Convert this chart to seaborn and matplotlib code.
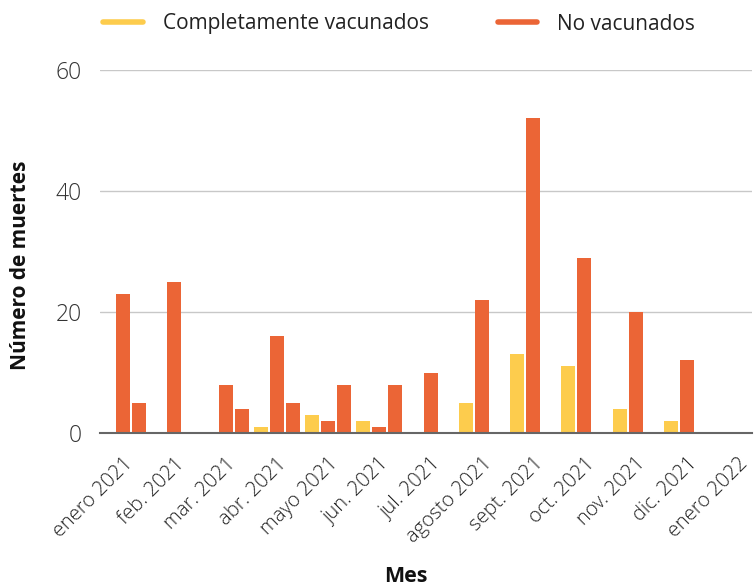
import matplotlib.pyplot as plt
import seaborn as sns
import pandas as pd
from matplotlib.lines import Line2D

sns.set_theme(style="white")
plt.rcParams['font.family'] = ['Open Sans', 'DejaVu Sans']

meses = ["enero 2021", "feb. 2021", "mar. 2021", "abr. 2021", "mayo 2021",
         "jun. 2021", "jul. 2021", "agosto 2021", "sept. 2021", "oct. 2021",
         "nov. 2021", "dic. 2021", "enero 2022"]
completos = [0, 0, 0, 1, 3, 2, 0, 5, 13, 11, 4, 2, 0]
no_vacunados = [23, 25, 8, 16, 2, 1, 10, 22, 52, 29, 20, 12, 0]
no_vacunados_b = [5, 0, 4, 5, 8, 8, 0, 0, 0, 0, 0, 0, 0]

grupos = ["Completamente vacunados", "No vacunados", "No vacunados (b)"]
amarillo = "#FDCC4D"
naranja = "#EB6536"

df = pd.DataFrame({
    "mes": meses * 3,
    "grupo": [grupos[0]] * 13 + [grupos[1]] * 13 + [grupos[2]] * 13,
    "muertes": completos + no_vacunados + no_vacunados_b,
})

fig = plt.figure(figsize=(7.56, 5.87), dpi=100)
ax = fig.add_axes([100 / 756, 1 - 433 / 587, 652 / 756, 363 / 587])

sns.barplot(data=df, x="mes", y="muertes", hue="grupo", order=meses,
            hue_order=grupos, palette=[amarillo, naranja, naranja],
            width=0.94, gap=0.12, saturation=1, linewidth=0,
            legend=False, errorbar=None, ax=ax)

ax.set_xlim(-0.45, 12.27)
ax.set_ylim(0, 60)
ax.set_yticks([0, 20, 40, 60])
ax.yaxis.grid(True, color="#c8c8c8", lw=1)
ax.set_axisbelow(True)
for s in ["top", "right", "left"]:
    ax.spines[s].set_visible(False)
ax.spines["bottom"].set_color("#666666")
ax.spines["bottom"].set_linewidth(1.5)
ax.spines["bottom"].set_zorder(5)

ax.tick_params(axis="y", length=0, labelsize=16.5, labelcolor="#333333", pad=13)
ax.tick_params(axis="x", length=0, labelsize=14.5, labelcolor="#222222", pad=15)
for lab in ax.get_yticklabels():
    lab.set_fontweight("light")
ax.set_xticks(range(len(meses)))
ax.set_xticklabels(meses, rotation=45, ha="right", va="top",
                   rotation_mode="anchor", fontweight="light")
ax.set_xlabel("")
ax.set_ylabel("")

fig.text(406 / 756, 1 - 577 / 587, "Mes", ha="center", va="center",
         fontsize=15.5, fontweight="bold", color="#111111")
fig.text(21 / 756, 1 - 265 / 587, "Número de muertes", ha="center",
         va="center", rotation=90, fontsize=15, fontweight="bold",
         color="#111111")

handles = [Line2D([], [], color=amarillo, lw=4, solid_capstyle="round"),
           Line2D([], [], color=naranja, lw=4, solid_capstyle="round")]
fig.legend(handles, grupos[:2], loc="center", bbox_to_anchor=(0.528, 1 - 24 / 587),
           ncol=2, frameon=False, handlelength=1.9,
           handletextpad=0.95, columnspacing=3.3,
           labelcolor="#222222", prop={"size": 15})

fig.savefig("out.png", dpi=100)
